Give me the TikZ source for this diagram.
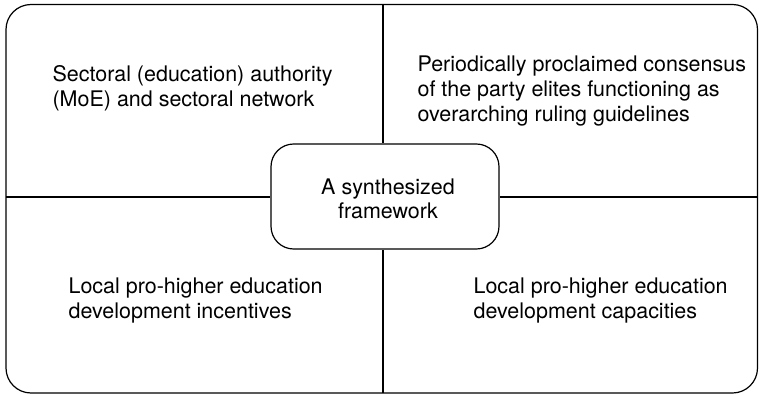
\documentclass[tikz,border=0pt]{standalone}
\usepackage{fontspec}
\setmainfont{TeX Gyre Heros}
\usetikzlibrary{positioning}

\tikzset{
  quad/.style={anchor=base west, inner sep=0pt, align=left,
    font=\fontsize{16.1}{18.75}\selectfont},
  core/.style={draw, rounded corners=17pt, align=center,
    minimum width=171pt, minimum height=78.75pt,
    font=\fontsize{16.1}{17.5}\selectfont}
}

\begin{document}
\begin{tikzpicture}[x=0.75pt,y=0.75pt,yscale=-1,xscale=1, line width=0.9pt]
\useasboundingbox (0,0) rectangle (759,395);

%Outer frame
\draw [rounded corners=18.75pt] (6,4.5) rectangle (757.5,393);
\coordinate (ftop) at (383,4.5);
\coordinate (fbot) at (383,393);
\coordinate (fleft) at (6,197);
\coordinate (fright) at (757.5,197);

%Centre box
\node [core] (synth) at (385,196.5) {};
\node [align=center, font=\fontsize{16.1}{17.5}\selectfont] (synthtxt) at (388,199) {A synthesized\\framework};

%Dividers
\draw (ftop) -- (synth.north -| ftop);
\draw (fbot) -- (synth.south -| fbot);
\draw (fleft) -- (synth.west |- fleft);
\draw (fright) -- (synth.east |- fright);

%Quadrant texts (base = last line)
\node [quad] (moe) at (52,107) {Sectoral (education) authority\\(MoE) and sectoral network};
\node [quad] (elite) at (417,122) {Periodically proclaimed consensus\\of the party elites functioning as\\overarching ruling guidelines};
\node [quad] (incent) at (68,318) {Local pro-higher education\\development incentives};
\node [quad] (capac) at (473,318) {Local pro-higher education\\development capacities};

\end{tikzpicture}
\end{document}
